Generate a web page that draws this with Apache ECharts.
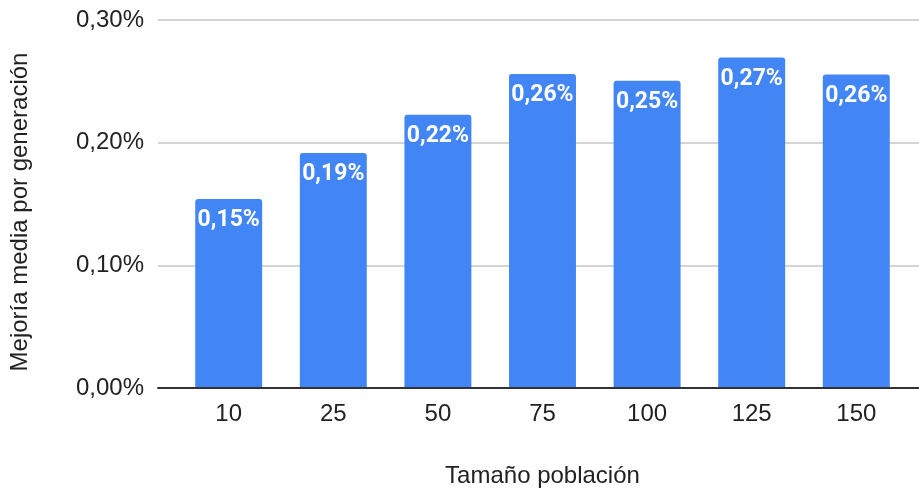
<!DOCTYPE html>
<html>
<head>
<meta charset="utf-8">
<script src="https://cdn.jsdelivr.net/npm/echarts@6/dist/echarts.min.js"></script>
<style>
  html, body { margin: 0; padding: 0; background: #fff; }
  #chart { width: 919px; height: 493px; }
</style>
</head>
<body>
<div id="chart"></div>
<script>
// Population sizes tested and the mean improvement per generation (in %)
const populationSizes = ['10', '25', '50', '75', '100', '125', '150'];
const meanImprovement = [0.154, 0.1915, 0.2227, 0.2559, 0.2505, 0.2694, 0.2556];
const yTicks = [0, 0.1, 0.2, 0.3];

const fmtPct = v => v.toFixed(2).replace('.', ',') + '%';
const axisFont = { fontFamily: 'Liberation Sans, Arial, sans-serif', fontSize: 24, color: '#222' };

const chart = echarts.init(document.getElementById('chart'), null, { renderer: 'canvas' });
chart.setOption({
  animation: false,
  backgroundColor: '#fff',
  grid: [
    // full-width frame: gridlines, value labels and baseline
    { left: 158, right: 0, top: 20, bottom: 105 },
    // bar area
    { left: 176.4, right: 10.4, top: 20, bottom: 105 }
  ],
  xAxis: [
    {
      gridIndex: 0, type: 'value', min: 0, max: 1, z: 5,
      axisLine: { show: true, lineStyle: { color: '#333', width: 2 } },
      axisTick: { show: false }, axisLabel: { show: false }, splitLine: { show: false }
    },
    {
      gridIndex: 1, type: 'category', data: populationSizes,
      axisLine: { show: false }, axisTick: { show: false },
      axisLabel: Object.assign({ margin: 14 }, axisFont),
      name: 'Tamaño población', nameLocation: 'middle', nameGap: 76,
      nameTextStyle: axisFont
    }
  ],
  yAxis: [
    {
      gridIndex: 0, type: 'value', min: yTicks[0], max: yTicks[yTicks.length - 1], interval: 0.1,
      axisLine: { show: false }, axisTick: { show: false },
      axisLabel: Object.assign({ margin: 14, formatter: v => fmtPct(v) }, axisFont),
      splitLine: { show: true, lineStyle: { color: '#d4d4d4', width: 2 } },
      name: 'Mejoría media por generación', nameLocation: 'middle', nameGap: 126,
      nameTextStyle: Object.assign({ padding: [0, 16, 0, 0] }, axisFont)
    },
    {
      gridIndex: 1, type: 'value', min: yTicks[0], max: yTicks[yTicks.length - 1], interval: 0.1,
      show: false
    }
  ],
  series: [{
    type: 'bar',
    xAxisIndex: 1, yAxisIndex: 1,
    data: meanImprovement,
    barWidth: '64%',
    itemStyle: { color: '#4285F4', borderRadius: [3, 3, 0, 0] },
    label: {
      show: true, position: 'insideTop', distance: 10,
      formatter: p => fmtPct(p.value),
      color: '#fff', fontFamily: 'Roboto, sans-serif', fontWeight: 'bold', fontSize: 23
    }
  }]
});
</script>
</body>
</html>
